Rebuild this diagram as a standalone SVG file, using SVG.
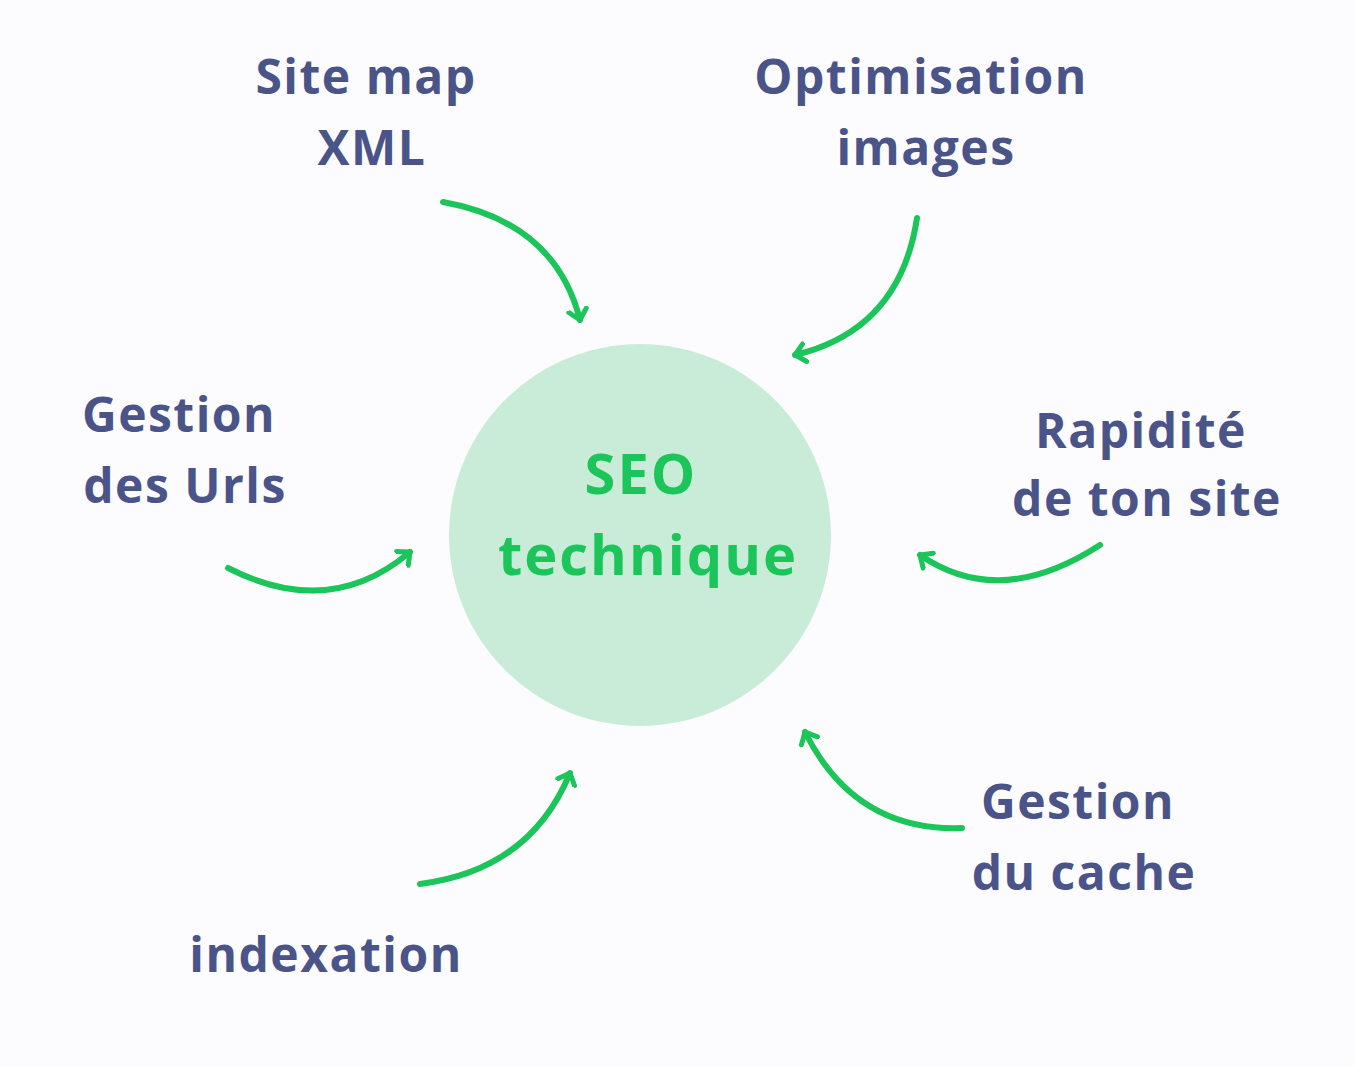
<svg xmlns="http://www.w3.org/2000/svg" width="1354" height="1066" viewBox="0 0 1354 1066">
<style>
.l{font-family:"Open Sans","Liberation Sans",sans-serif;font-weight:700;font-size:48px;letter-spacing:1.5px;fill:#4b5488;text-anchor:middle}
.c{font-family:"Open Sans","Liberation Sans",sans-serif;font-weight:700;font-size:56px;letter-spacing:2px;fill:#1cc55a;text-anchor:middle}
.a{fill:none;stroke:#1cc55a;stroke-width:6;stroke-linecap:round;stroke-linejoin:round}
</style>
<defs>
<marker id="h" viewBox="-12 -12 24 24" markerWidth="24" markerHeight="24" markerUnits="userSpaceOnUse" orient="auto">
<polyline points="-10,-9 0,0 -10,9" fill="none" stroke="#1cc55a" stroke-width="5" stroke-linecap="round" stroke-linejoin="round"/>
</marker>
</defs>
<rect width="1354" height="1066" fill="#fcfcfe"/>
<g id="center"><circle cx="640" cy="535" r="191" fill="#c9ecd9"/>
<text class="c" x="641" y="494">SEO</text><text class="c" x="648" y="575">technique</text></g>
<g id="sitemap"><text class="l" x="366" y="94">Site map</text><text class="l" x="372" y="165">XML</text></g>
<g id="optim"><text class="l" x="921" y="94">Optimisation</text><text class="l" x="926" y="165">images</text></g>
<g id="urls"><text class="l" x="179" y="432">Gestion</text><text class="l" x="185" y="503">des Urls</text></g>
<g id="rapid"><text class="l" x="1141" y="448">Rapidité</text><text class="l" x="1147" y="516">de ton site</text></g>
<g id="cache"><text class="l" x="1078" y="819">Gestion</text><text class="l" x="1084" y="890">du cache</text></g>
<g id="index"><text class="l" x="326" y="972">indexation</text></g>
<g id="connectors">
<path class="a" marker-end="url(#h)" d="M443,202 Q555,222 580,320"/>
<path class="a" marker-end="url(#h)" d="M917,218 Q900,330 795,355"/>
<path class="a" marker-end="url(#h)" d="M228,568 Q330,620 410,552"/>
<path class="a" marker-end="url(#h)" d="M1100,545 Q1000,610 920,555"/>
<path class="a" marker-end="url(#h)" d="M420,884 Q530,870 570,773"/>
<path class="a" marker-end="url(#h)" d="M962,828 Q855,832 805,732"/>
</g>
</svg>
